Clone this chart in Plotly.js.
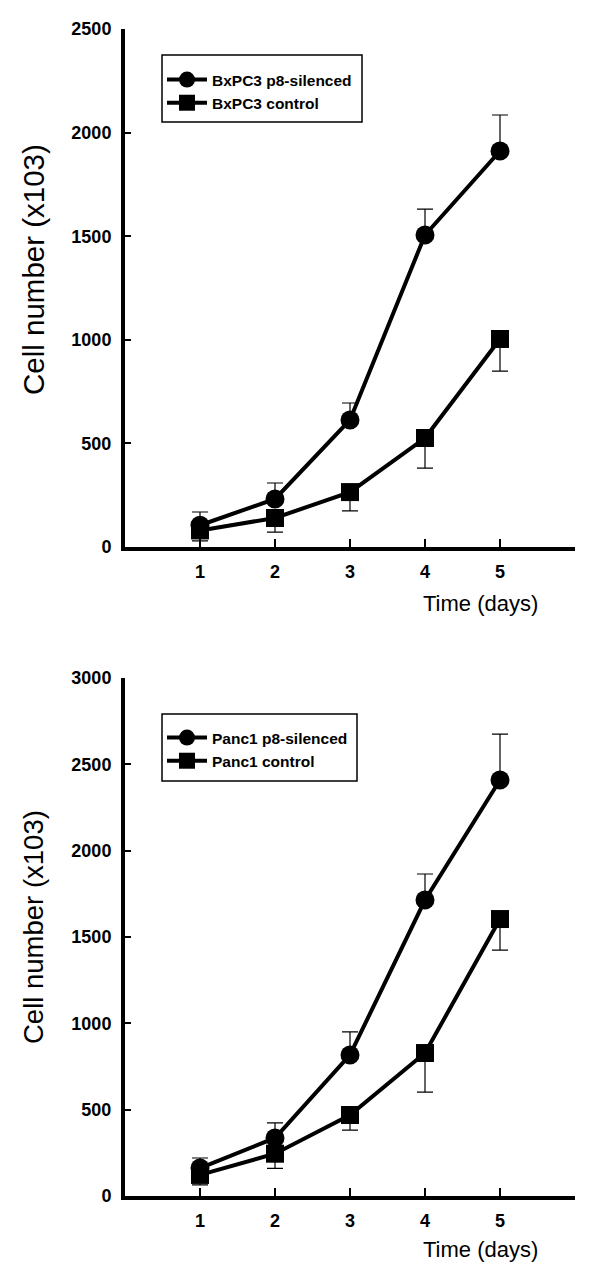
<!DOCTYPE html>
<html>
<head>
<meta charset="utf-8">
<script src="https://cdn.plot.ly/plotly-3.0.1.min.js"></script>
<style>html,body{margin:0;padding:0;background:#fff;}#chart{width:600px;height:1275px;}</style>
</head>
<body>
<div id="chart"></div>
<script>
// ---- data ----
var days = [1, 2, 3, 4, 5];
var dayTickLabels = ['1', '2', '3', '4', '5'];

var bxSilenced = [105, 232, 613, 1506, 1911];
var bxSilencedErr = [64, 77, 82, 125, 174];
var bxControl = [80, 140, 265, 526, 1004];
var bxControlErr = [50, 68, 91, 145, 155];

var paSilenced = [162, 336, 817, 1714, 2409];
var paSilencedErr = [58, 87, 133, 151, 266];
var paControl = [122, 245, 469, 828, 1604];
var paControlErr = [58, 85, 87, 226, 180];

var seriesNames = ['BxPC3 p8-silenced', 'BxPC3 control', 'Panc1 p8-silenced', 'Panc1 control'];
var yTitle = 'Cell number (x103)';
var xTitle = 'Time (days)';

var FONT = 'Liberation Sans, Arial, Helvetica, sans-serif';

function zeros(n) { var a = []; for (var i = 0; i < n; i++) a.push(0); return a; }

function trace(name, y, err, up, symbol, xa, ya, legend) {
  return {
    type: 'scatter', mode: 'lines+markers', name: name,
    x: days, y: y, xaxis: xa, yaxis: ya, legend: legend,
    line: {color: '#000', width: 4},
    marker: {symbol: symbol, size: symbol === 'circle' ? 19 : 18, color: '#000'},
    error_y: {
      type: 'data', symmetric: false,
      array: up ? err : zeros(err.length),
      arrayminus: up ? zeros(err.length) : err,
      color: '#000', thickness: 1.2, width: 8
    }
  };
}

var data = [
  trace(seriesNames[0], bxSilenced, bxSilencedErr, true, 'circle', 'x', 'y', 'legend'),
  trace(seriesNames[1], bxControl, bxControlErr, false, 'square', 'x', 'y', 'legend'),
  trace(seriesNames[2], paSilenced, paSilencedErr, true, 'circle', 'x2', 'y2', 'legend2'),
  trace(seriesNames[3], paControl, paControlErr, false, 'square', 'x2', 'y2', 'legend2')
];

function xAxis(anchor) {
  return {
    domain: [125/600, 575/600], anchor: anchor, range: [0, 6],
    tickvals: days, ticktext: dayTickLabels,
    showline: true, linewidth: 4, linecolor: '#000',
    ticks: 'inside', ticklen: 8, tickwidth: 2, tickcolor: '#000',
    showgrid: false, zeroline: false, ticklabelstandoff: 5,
    tickfont: {family: FONT, size: 18, color: '#000', weight: 'bold'}
  };
}
function yAxis(anchor, dom, max) {
  return {
    domain: dom, anchor: anchor, range: [0, max], dtick: 500, tick0: 0,
    showline: true, linewidth: 4, linecolor: '#000',
    ticks: 'inside', ticklen: 6, tickwidth: 2, tickcolor: '#000',
    showgrid: false, zeroline: false, ticklabelstandoff: 6,
    tickfont: {family: FONT, size: 18, color: '#000', weight: 'bold'}
  };
}
function legend(y) {
  return {
    x: 162/600, y: y, xanchor: 'left', yanchor: 'top',
    bgcolor: 'rgba(0,0,0,0)', borderwidth: 0, itemwidth: 40,
    font: {family: FONT, size: 15.5, color: '#000', weight: 'bold'},
    tracegroupgap: 0
  };
}
function box(top, bottom, right) {
  return {
    type: 'rect', xref: 'paper', yref: 'paper', layer: 'below',
    x0: 162/600, x1: right/600, y0: 1 - bottom/1275, y1: 1 - top/1275,
    line: {color: '#000', width: 1.5}, fillcolor: '#fff'
  };
}
function ann(text, x, y, size, angle) {
  return {
    text: text, xref: 'paper', yref: 'paper', x: x, y: y,
    xanchor: 'center', yanchor: 'middle', showarrow: false,
    textangle: angle || 0,
    font: {family: FONT, size: size, color: '#000'}
  };
}

var layout = {
  width: 600, height: 1275,
  margin: {l: 0, r: 0, t: 0, b: 0},
  paper_bgcolor: '#fff', plot_bgcolor: 'rgba(0,0,0,0)',
  font: {family: FONT, color: '#000'},
  showlegend: true,
  xaxis: xAxis('y'),
  yaxis: yAxis('x', [1 - 547/1275, 1 - 29/1275], 2500),
  xaxis2: xAxis('y2'),
  yaxis2: yAxis('x2', [1 - 1196/1275, 1 - 678/1275], 3000),
  legend: legend(1 - 63/1275),
  legend2: legend(1 - 721/1275),
  shapes: [box(55, 122, 362), box(714, 781, 357)],
  annotations: [
    ann(yTitle, 33/600, 1 - 270/1275, 29.5, -90),
    ann(yTitle, 33/600, 1 - 927/1275, 27.5, -90),
    ann(xTitle, 480/600, 1 - 603/1275, 22),
    ann(xTitle, 480/600, 1 - 1249/1275, 22)
  ]
};

Plotly.newPlot('chart', data, layout, {staticPlot: true, displayModeBar: false});
</script>
</body>
</html>
